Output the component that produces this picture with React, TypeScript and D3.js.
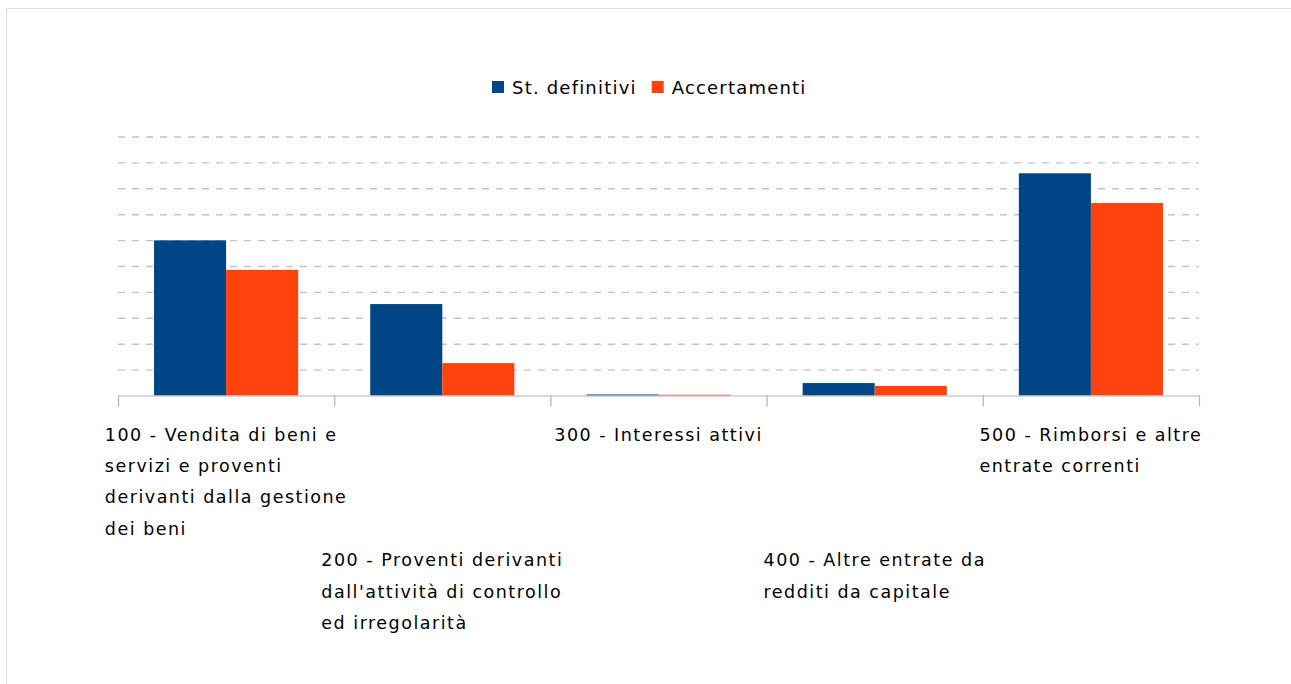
import React, { useEffect, useRef } from 'react';
import * as d3 from 'd3';

// categorie (etichette su più righe, come nel grafico originale)
const categoryLines: string[][] = [
  ['100 - Vendita di beni e', 'servizi e proventi', 'derivanti dalla gestione', 'dei beni'],
  ['200 - Proventi derivanti', "dall'attività di controllo", 'ed irregolarità'],
  ['300 - Interessi attivi'],
  ['400 - Altre entrate da', 'redditi da capitale'],
  ['500 - Rimborsi e altre', 'entrate correnti'],
];
const categories = ['100', '200', '300', '400', '500'];
const seriesNames = ['St. definitivi', 'Accertamenti'];
const stDefinitivi = [5.99, 3.53, 0.04, 0.48, 8.58];
const accertamenti = [4.85, 1.25, 0.03, 0.37, 7.43];
const gridTicks = [1, 2, 3, 4, 5, 6, 7, 8, 9, 10];

const colors = ['#004586', '#ff420e'];
const FONT = '"DejaVu Sans", sans-serif';

const W = 1291;
const H = 684;
const left = 118;
const right = 1199;
const top = 136.5;
const bottom = 395.5;

export default function App() {
  const ref = useRef<SVGSVGElement>(null);

  useEffect(() => {
    const svg = d3.select(ref.current);
    svg.selectAll('*').remove();

    // cornice
    svg.append('rect')
      .attr('x', 6.5).attr('y', 8.5)
      .attr('width', W + 20).attr('height', H + 20)
      .attr('fill', 'white')
      .attr('stroke', '#dcdcdc');

    const x = d3.scaleBand().domain(categories).range([left, right]).padding(0);
    const bw = x.bandwidth();
    const xs = d3.scaleBand().domain(seriesNames).range([bw / 6, (bw * 5) / 6]);
    const y = d3.scaleLinear().domain([0, 10]).range([bottom, top]);

    // griglia orizzontale tratteggiata
    const grid = svg.append('g')
      .attr('transform', `translate(${left},0)`)
      .call(d3.axisLeft(y).tickValues(gridTicks).tickSize(-(right - left)).tickFormat(() => ''));
    grid.select('.domain').remove();
    grid.selectAll('line')
      .attr('stroke', '#c4c4c4')
      .attr('stroke-width', 1.4)
      .attr('stroke-dasharray', '7,7');

    // barre
    const values = [stDefinitivi, accertamenti];
    seriesNames.forEach((s, si) => {
      svg.append('g')
        .selectAll('rect')
        .data(values[si])
        .enter()
        .append('rect')
        .attr('x', (_d, i) => (x(categories[i]) as number) + (xs(s) as number))
        .attr('y', (d) => y(d))
        .attr('width', xs.bandwidth())
        .attr('height', (d) => y(0) - y(d))
        .attr('fill', colors[si]);
    });

    // asse x con tacche ai confini delle categorie
    const xb = d3.scaleLinear().domain([0, categories.length]).range([left, right]);
    const axis = svg.append('g')
      .attr('transform', `translate(0,${bottom})`)
      .call(d3.axisBottom(xb).tickValues(d3.range(categories.length + 1)).tickSize(11).tickSizeOuter(0).tickFormat(() => ''));
    axis.select('.domain').attr('stroke', '#b3b3b3').attr('stroke-width', 1.2);
    axis.selectAll('line').attr('stroke', '#b3b3b3').attr('stroke-width', 1.2);

    // etichette categorie, sfalsate
    const lineH = 31.4;
    const base = 440.5;
    categoryLines.forEach((lines, i) => {
      const row = i % 2 === 0 ? 0 : 4;
      const g = svg.append('g');
      lines.forEach((l, j) => {
        g.append('text')
          .attr('x', 0)
          .attr('y', base + (row + j) * lineH)
          .attr('font-family', FONT)
          .attr('font-size', 17.5)
          .attr('letter-spacing', 1.5)
          .attr('fill', '#000')
          .text(l);
      });
      const wMax = d3.max(g.selectAll<SVGTextElement, unknown>('text').nodes(), (n) => n.getBBox().width) || 0;
      const cx = (x(categories[i]) as number) + bw / 2;
      g.attr('transform', `translate(${cx - wMax / 2},0)`);
    });

    // legenda
    const leg = svg.append('g');
    let lx = 492;
    seriesNames.forEach((s, si) => {
      leg.append('rect')
        .attr('x', lx).attr('y', 81)
        .attr('width', 12).attr('height', 12)
        .attr('fill', colors[si]);
      const t = leg.append('text')
        .attr('x', lx + 20)
        .attr('y', 94.3)
        .attr('font-family', FONT)
        .attr('font-size', 18)
        .attr('letter-spacing', 1.2)
        .attr('fill', '#000')
        .text(s);
      lx += 20 + (t.node() as SVGTextElement).getBBox().width + 15;
    });
  }, []);

  return (
    <div style={{ position: 'absolute', left: 0, top: 0, width: W, height: H, overflow: 'hidden', background: 'white' }}>
      <svg ref={ref} width={W} height={H} />
    </div>
  );
}
